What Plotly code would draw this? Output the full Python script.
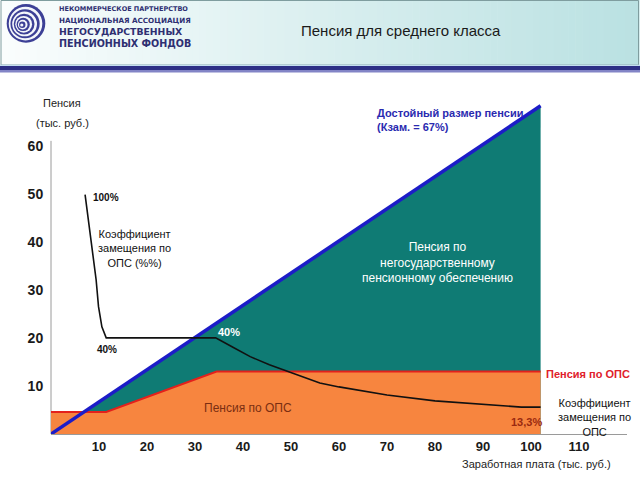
import plotly.graph_objects as go

# ---------------- data ----------------
salary_ticks = [10, 20, 30, 40, 50, 60, 70, 80, 90, 100, 110]
pension_ticks = [10, 20, 30, 40, 50, 60]

decent_x = [0, 102]          # "Достойный размер пенсии" (Кзам = 67%)
decent_y = [0, 68.3]

ops_x = [0, 11.5, 34.5, 102]  # пенсия по ОПС
ops_y = [4.6, 4.6, 13.0, 13.0]

coef_x = [7.1, 8.3, 9.4, 9.9, 10.6, 11.5, 34.3, 38.0, 41.5, 45.5, 49.8, 56, 60, 70, 80, 90, 98, 102]
coef_y = [49.8, 40.4, 32.1, 26.5, 22.3, 20.0, 20.0, 18.0, 16.1, 14.4, 12.9, 10.6, 9.8, 8.1, 6.9, 6.25, 5.6, 5.6]

Y_AXIS_TOP = 61

# ---------------- geometry helpers ----------------
L, W = 51, 576
T, H = 88, 346
def px(x):
    return (x - L) / W
def py(y):
    return (T + H - y) / H

FONT = "Liberation Sans, Arial, sans-serif"

fig = go.Figure()

fig.add_trace(go.Scatter(x=decent_x, y=decent_y, mode="lines", fill="tozeroy",
                         fillcolor="#0f7b74", line=dict(width=0), hoverinfo="skip"))
fig.add_trace(go.Scatter(x=ops_x, y=ops_y, mode="lines", fill="tozeroy",
                         fillcolor="#f7853f", line=dict(color="#e3211c", width=2),
                         hoverinfo="skip"))
fig.add_trace(go.Scatter(x=decent_x, y=decent_y, mode="lines",
                         line=dict(color="#1c1cc8", width=3.5), hoverinfo="skip"))
fig.add_trace(go.Scatter(x=coef_x, y=coef_y, mode="lines",
                         line=dict(color="#111111", width=1.6), hoverinfo="skip"))
fig.add_trace(go.Scatter(x=salary_ticks, y=[-0.75] * len(salary_ticks), mode="markers",
                         marker=dict(symbol="triangle-down", size=6, color="#111"),
                         cliponaxis=False, hoverinfo="skip"))
fig.add_trace(go.Scatter(x=[-0.75] * len(pension_ticks), y=pension_ticks, mode="markers",
                         marker=dict(symbol="triangle-left", size=6, color="#111"),
                         cliponaxis=False, hoverinfo="skip"))

shapes = []
shapes.append(dict(type="line", xref="paper", yref="y", x0=0, x1=0, y0=0, y1=Y_AXIS_TOP,
                   line=dict(color="#9a9a9a", width=1), layer="below"))
# header gradient
x0, x1 = 1, 639
n = 90
c0 = (250, 253, 253)
c1 = (186, 225, 226)
for i in range(n):
    t = i / (n - 1)
    c = tuple(int(round(c0[k] + (c1[k] - c0[k]) * t)) for k in range(3))
    xa = x0 + (x1 - x0) * i / n
    xb = x0 + (x1 - x0) * (i + 1) / n + 0.6
    shapes.append(dict(type="rect", xref="paper", yref="paper",
                       x0=px(xa), x1=px(xb), y0=py(65), y1=py(0),
                       fillcolor="rgb(%d,%d,%d)" % c, line=dict(width=0), layer="below"))
shapes.append(dict(type="rect", xref="paper", yref="paper", x0=px(1), x1=px(638.5),
                   y0=py(65), y1=py(0.5), line=dict(color="#7f9d9f", width=1),
                   fillcolor="rgba(0,0,0,0)"))
shapes.append(dict(type="rect", xref="paper", yref="paper", x0=px(0), x1=px(640),
                   y0=py(66), y1=py(64.8), line=dict(width=0), fillcolor="#c4def0"))
shapes.append(dict(type="rect", xref="paper", yref="paper", x0=px(0), x1=px(640),
                   y0=py(70), y1=py(66), line=dict(width=0), fillcolor="#2d2f86"))
shapes.append(dict(type="rect", xref="paper", yref="paper", x0=px(0), x1=px(640),
                   y0=py(72.5), y1=py(70), line=dict(width=0), fillcolor="#8284c6"))
# logo rings
rings = [19.3, 16.8, 14.6, 12.4, 10.4, 8.4, 6.6, 4.8, 3.2, 1.6]
cx0, cy0, cx1, cy1 = 26.0, 23.4, 21.8, 25.0
for i, r in enumerate(rings):
    t = i / (len(rings) - 1)
    cx = cx0 + (cx1 - cx0) * t
    cy = cy0 + (cy1 - cy0) * t
    col = "#3d4096" if i % 2 == 0 else "#f4f6fb"
    shapes.append(dict(type="circle", xref="paper", yref="paper",
                       x0=px(cx - r), x1=px(cx + r), y0=py(cy + r), y1=py(cy - r),
                       fillcolor=col, line=dict(width=0)))

ann = []
def text(x, y, s, size=11, color="#111", bold=False, xanchor="center", yanchor="middle",
         align="center", family=FONT):
    ann.append(dict(x=px(x), y=py(y), xref="paper", yref="paper", text=s, showarrow=False,
                    xanchor=xanchor, yanchor=yanchor, align=align,
                    font=dict(family=family, size=size, color=color,
                              weight="bold" if bold else "normal")))

NAVY = "#2e2f72"
text(57, 9, "НЕКОММЕРЧЕСКОЕ ПАРТНЕРСТВО", 6.5, NAVY, True, "left", family="DejaVu Sans")
text(57, 20, "НАЦИОНАЛЬНАЯ АССОЦИАЦИЯ", 7.2, NAVY, True, "left", family="DejaVu Sans")
text(57, 31.5, "НЕГОСУДАРСТВЕННЫХ", 9.3, NAVY, True, "left", family="DejaVu Sans")
text(57, 43, "ПЕНСИОННЫХ ФОНДОВ", 9.6, NAVY, True, "left", family="DejaVu Sans")
text(401, 31, "Пенсия для среднего класса", 15, "#1a1a1a")

text(62, 103, "Пенсия", 11, "#222")
text(62, 123, "(тыс. руб.)", 11, "#222")
text(91, 197, "100%", 10, "#111", True, "left")
text(134, 248, "Коэффициент<br>замещения по<br>ОПС (%%)", 11, "#111")
text(107, 349, "40%", 10, "#111", True)
text(229, 332, "40%", 11, "white", True)
text(375, 120, "Достойный размер пенсии<br>(Кзам. = 67%)", 11, "#2a2ab0", True, "left",
     align="left")
text(437, 262, "Пенсия по<br>негосударственному<br>пенсионному обеспечению", 12, "white")
text(248, 408, "Пенсия по ОПС", 12, "#7a2e12")
text(544, 374, "Пенсия по ОПС", 11, "#e0202a", True, "left")
text(526, 422, "13,3%", 11, "#9a2a10", True)
text(594, 417, "Коэффициент<br>замещения по<br>ОПС", 11, "#111")
text(536, 464, "Заработная плата (тыс. руб.)", 11, "#222")

fig.update_layout(
    width=640, height=480,
    margin=dict(l=L, r=640 - L - W, t=T, b=480 - T - H, pad=0),
    paper_bgcolor="white", plot_bgcolor="white",
    showlegend=False,
    shapes=shapes, annotations=ann,
    xaxis=dict(range=[0, 120], tickvals=salary_ticks, showgrid=False, zeroline=False,
               automargin=False,
               showline=True, linecolor="#9a9a9a", linewidth=1,
               ticks="",
               tickfont=dict(family=FONT, size=13, color="#1a1a1a", weight="bold")),
    yaxis=dict(range=[0, 72], tickvals=pension_ticks, showgrid=False, zeroline=False,
               automargin=False, showline=False,
               ticks="outside", ticklen=4, tickcolor="rgba(0,0,0,0)",
               tickfont=dict(family=FONT, size=14, color="#1a1a1a", weight="bold")),
)

fig.write_html("out.html", config={"displayModeBar": False},
               post_script="document.body.style.margin='0';document.body.style.overflow='hidden';")
